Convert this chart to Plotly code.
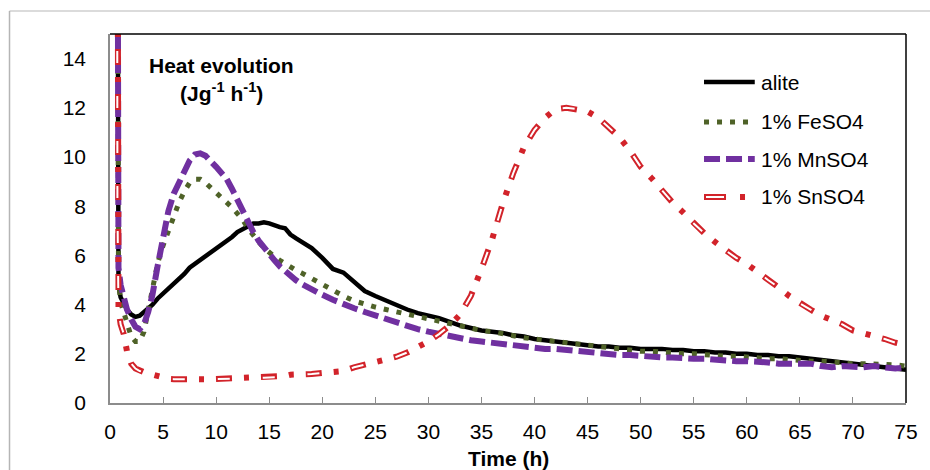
import plotly.graph_objects as go

# hydration time (h)
time_h = [0.62, 0.7, 0.8, 1.0, 1.3, 1.6, 2.0, 2.4, 2.8, 3.2, 3.6, 4.0,
          4.5, 5.0, 5.5, 6.0, 6.5, 7.0, 7.5, 8.0, 8.5, 9.0, 9.5, 10.0,
          10.5, 11.0, 11.5, 12.0, 12.5, 13.0, 13.5, 14.0, 14.5, 15.0, 15.5, 16.0,
          16.5, 17.0, 17.5, 18.0,
          19, 20, 21, 22, 23, 24, 25, 26, 27, 28, 29, 30, 31, 32, 33, 34, 35,
          36, 37, 38, 39, 40, 41, 42, 43, 44, 45, 46, 47, 48, 49, 50, 51, 52,
          53, 54, 55, 56, 57, 58, 59, 60, 61, 62, 63, 64, 65, 66, 67, 68, 69,
          70, 71, 72, 73, 74, 75]

alite = [40, 7.0, 4.8, 4.3, 4.0, 3.8, 3.6, 3.5, 3.55, 3.7, 3.8, 4.0,
         4.25, 4.45, 4.6, 4.85, 5.05, 5.25, 5.5, 5.65, 5.8, 5.95, 6.1, 6.3,
         6.45, 6.6, 6.75, 6.95, 7.05, 7.15, 7.3, 7.3, 7.35, 7.3, 7.2, 7.15,
         7.1, 6.85, 6.7, 6.55,
         6.3, 5.9, 5.45, 5.3, 4.95, 4.55, 4.35, 4.15, 3.95, 3.8, 3.65, 3.55, 3.45,
         3.3, 3.15, 3.05, 2.95, 2.9, 2.85, 2.75, 2.7, 2.6, 2.55, 2.5, 2.45, 2.4,
         2.35, 2.3, 2.3, 2.25, 2.25, 2.2, 2.2, 2.2, 2.15, 2.15, 2.1, 2.1, 2.05,
         2.05, 2.0, 2.0, 1.95, 1.95, 1.9, 1.9, 1.85, 1.8, 1.75, 1.7, 1.65, 1.6,
         1.55, 1.5, 1.45, 1.4, 1.35]

feso4 = [40, 8.0, 5.0, 4.1, 3.7, 3.15, 2.7, 2.5, 2.5, 2.9, 3.7, 4.7,
         5.7, 6.4, 7.0, 7.65, 8.15, 8.6, 8.95, 9.1, 9.1, 8.95, 8.75, 8.55,
         8.4, 8.15, 7.95, 7.7, 7.45, 7.1, 6.8, 6.55, 6.3, 6.1, 5.95, 5.8,
         5.65, 5.5, 5.4, 5.3,
         5.05, 4.8, 4.55, 4.35, 4.15, 4.0, 3.9, 3.8, 3.7, 3.6, 3.5, 3.4, 3.3,
         3.2, 3.1, 3.0, 2.95, 2.9, 2.8, 2.75, 2.65, 2.6, 2.55, 2.45, 2.4, 2.35,
         2.3, 2.25, 2.2, 2.2, 2.15, 2.1, 2.1, 2.05, 2.05, 2.0, 2.0, 1.95, 1.95,
         1.9, 1.9, 1.85, 1.85, 1.8, 1.8, 1.75, 1.75, 1.7, 1.7, 1.65, 1.65, 1.6,
         1.6, 1.6, 1.55, 1.55, 1.5]

mnso4 = [40, 9.0, 5.5, 4.8, 4.3, 3.8, 3.4, 3.1, 3.0, 3.2, 3.7, 4.4,
         5.6, 6.7, 7.8, 8.5, 8.95, 9.45, 9.85, 10.1, 10.15, 10.05, 9.85, 9.6,
         9.35, 9.1, 8.7, 8.25, 7.75, 7.3, 6.95, 6.6, 6.3, 6.05, 5.8, 5.55,
         5.35, 5.15, 5.0, 4.85,
         4.6, 4.4, 4.2, 4.0, 3.85, 3.7, 3.55, 3.4, 3.25, 3.1, 3.0, 2.9, 2.8,
         2.7, 2.6, 2.55, 2.5, 2.45, 2.35, 2.3, 2.3, 2.25, 2.2, 2.2, 2.15, 2.1,
         2.05, 2.0, 2.0, 1.95, 1.95, 1.9, 1.9, 1.85, 1.85, 1.8, 1.8, 1.8, 1.75,
         1.75, 1.7, 1.7, 1.7, 1.65, 1.6, 1.6, 1.55, 1.6, 1.5, 1.45, 1.5, 1.45,
         1.45, 1.5, 1.45, 1.4, 1.45]

snso4 = [40, 8.0, 3.8, 3.2, 2.8, 2.1, 1.6, 1.4, 1.3, 1.25, 1.2, 1.15,
         1.05, 1.0, 0.98, 0.97, 0.96, 0.95, 0.95, 0.95, 0.95, 0.96, 0.97, 0.98,
         0.99, 1.0, 1.0, 1.0, 1.0, 1.0, 1.0, 1.02, 1.03, 1.04, 1.05, 1.05,
         1.1, 1.15, 1.15, 1.15,
         1.18, 1.22, 1.26, 1.3, 1.45, 1.55, 1.65, 1.75, 1.88, 2.05, 2.25, 2.5, 2.8,
         3.15, 3.6, 4.35, 5.45, 6.65, 8.1, 9.35, 10.4, 11.1, 11.6, 11.95, 12.0, 11.95,
         11.85, 11.6, 11.2, 10.8, 10.25, 9.6, 9.15, 8.65, 8.15, 7.75, 7.3, 6.9, 6.55,
         6.2, 5.9, 5.65, 5.35, 5.0, 4.7, 4.35, 4.05, 3.8, 3.55, 3.4, 3.2, 2.95,
         2.85, 2.75, 2.6, 2.45, 2.35]

series_names = ["alite", "1% FeSO4", "1% MnSO4", "1% SnSO4"]
series_values = [alite, feso4, mnso4, snso4]
x_ticks = [0, 5, 10, 15, 20, 25, 30, 35, 40, 45, 50, 55, 60, 65, 70, 75]
y_ticks = [0, 2, 4, 6, 8, 10, 12, 14]

FONT = "Liberation Sans, Arial, sans-serif"
FS = 21
RED = "#D2232A"
styles = [
    dict(color="black", width=4.5, dash="solid"),
    dict(color="#4F6228", width=5, dash="5px,8px"),
    dict(color="#7030A0", width=6, dash="16px,6px"),
    dict(color=RED, width=6, dash="16px,12px,5px,12px"),
]
# white core that makes the SnSO4 dashes look hollow
hollow = dict(color="white", width=2, dash="0px,2px,12px,31px")

fig = go.Figure()
for name, vals, st in zip(series_names, series_values, styles):
    fig.add_trace(go.Scatter(x=time_h, y=vals, mode="lines", name=name, line=st))
fig.add_trace(go.Scatter(x=time_h, y=snso4, mode="lines", line=hollow,
                         showlegend=False, hoverinfo="skip"))

# page px -> paper helpers (plot area sits at 110..910 x 34..403)
def px_x(px):
    return (px - 110) / 800


def px_y(py):
    return (403 - py) / 369


shapes = [
    # top and right frame of the plot area (black)
    dict(type="line", xref="paper", yref="paper", x0=0, x1=1, y0=1, y1=1,
         line=dict(color="black", width=1.5)),
    dict(type="line", xref="paper", yref="paper", x0=1, x1=1, y0=0, y1=1,
         line=dict(color="black", width=1.5)),
    # outer chart-area border
    dict(type="line", xref="paper", yref="paper", x0=px_x(9), x1=px_x(960),
         y0=px_y(11), y1=px_y(11), line=dict(color="#cfcfcf", width=1.5)),
    dict(type="line", xref="paper", yref="paper", x0=px_x(9), x1=px_x(9),
         y0=px_y(11), y1=px_y(480), line=dict(color="#b5b5b5", width=1.5)),
]

# hand-built legend
leg_rows = [82, 122, 159, 197]
annotations = []
for name, st, row in zip(series_names, styles, leg_rows):
    shapes.append(dict(type="line", xref="paper", yref="paper",
                       x0=px_x(707), x1=px_x(758), y0=px_y(row), y1=px_y(row),
                       line=dict(color=st["color"], width=st["width"],
                                 dash=st["dash"] if name != "1% SnSO4" else "22px,14px,5px,20px")))
    annotations.append(dict(x=px_x(762), y=px_y(row), xref="paper", yref="paper",
                            text=name, showarrow=False, xanchor="left", yanchor="middle",
                            font=dict(size=FS, color="black", family=FONT)))
shapes.append(dict(type="line", xref="paper", yref="paper",
                   x0=px_x(707), x1=px_x(758), y0=px_y(197), y1=px_y(197),
                   line=dict(color="white", width=2, dash="0px,2px,18px,40px")))

annotations += [
    dict(x=px_x(222), y=px_y(65), xref="paper", yref="paper", text="<b>Heat evolution</b>",
         showarrow=False, xanchor="center", yanchor="middle",
         font=dict(size=FS, color="black", family=FONT)),
    dict(x=px_x(222), y=px_y(92), xref="paper", yref="paper",
         text="<b>(Jg<sup>-1</sup> h<sup>-1</sup>)</b>",
         showarrow=False, xanchor="center", yanchor="middle",
         font=dict(size=FS, color="black", family=FONT)),
    dict(x=0.5, y=px_y(458), xref="paper", yref="paper", text="<b>Time (h)</b>",
         showarrow=False, xanchor="center", yanchor="middle",
         font=dict(size=FS, color="black", family=FONT)),
]

fig.update_layout(
    width=930, height=470,
    margin=dict(l=110, r=20, t=34, b=67),
    paper_bgcolor="white", plot_bgcolor="white",
    showlegend=False,
    font=dict(family=FONT, size=FS, color="black"),
    shapes=shapes,
    annotations=annotations,
)
fig.update_xaxes(range=[0, 75], tickvals=x_ticks, ticks="inside", ticklen=6,
                 tickcolor="#8c8c8c", showline=True, linecolor="#8c8c8c", linewidth=1.5,
                 showgrid=False, zeroline=False, ticklabelstandoff=9,
                 tickfont=dict(size=FS, family=FONT, color="black"))
fig.update_yaxes(range=[0, 15], tickvals=y_ticks, ticks="", showline=True,
                 linecolor="#8c8c8c", linewidth=1.5, showgrid=False, zeroline=False,
                 ticklabelstandoff=18, tickfont=dict(size=FS, family=FONT, color="black"))

# drop the default page margin so the figure sits at the window's top-left corner
fig.write_html("out.html", config={"displayModeBar": False},
               post_script="document.body.style.margin='0';document.body.style.overflow='hidden';")
